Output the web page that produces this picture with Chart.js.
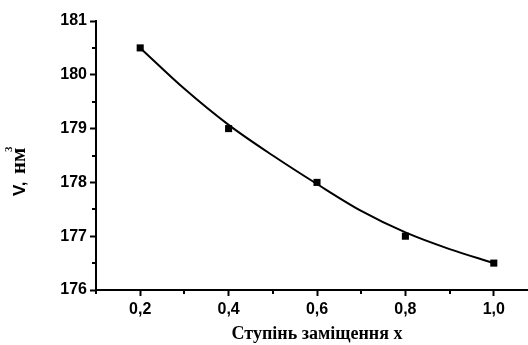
<!DOCTYPE html>
<html>
<head>
<meta charset="utf-8">
<script src="https://cdn.jsdelivr.net/npm/chart.js@4/dist/chart.umd.min.js"></script>
<style>
html,body{margin:0;padding:0;background:#fff;overflow:hidden;width:528px;height:345px;}
#wrap{position:absolute;left:0;top:0;width:543px;height:345px;}
</style>
</head>
<body>
<div id="wrap"><canvas id="c" width="543" height="345"></canvas></div>
<script>
// Measured points
const substitution = [0.2, 0.4, 0.6, 0.8, 1.0];
const volume = [180.5, 179.0, 178.0, 177.0, 176.5];
// Fitted curve
const fitX = [0.2, 0.3, 0.4, 0.5, 0.6, 0.7, 0.8, 0.9, 1.0];
const fitV = [180.5, 179.74, 179.07, 178.5, 177.97, 177.47, 177.07, 176.76, 176.5];
// Tick labels
const xTicks = [0.2, 0.4, 0.6, 0.8, 1.0];
const xMinor = [0.1, 0.3, 0.5, 0.7, 0.9, 1.1];
const yTicks = [176, 177, 178, 179, 180, 181];
const yMinor = [176.5, 177.5, 178.5, 179.5, 180.5];
const xTitle = 'Ступінь заміщення x';

const sansBold = {family: '"Liberation Sans", Arial, sans-serif', size: 16, weight: 'bold'};

const minorTicks = {
  id: 'minorTicks',
  afterDraw(chart) {
    const ctx = chart.ctx, xs = chart.scales.x, ys = chart.scales.y;
    const a = chart.chartArea;
    ctx.save();
    ctx.strokeStyle = '#000';
    ctx.lineWidth = 2;
    ctx.beginPath();
    xMinor.forEach(v => {
      const p = Math.round(xs.getPixelForValue(v));
      ctx.moveTo(p, a.bottom); ctx.lineTo(p, a.bottom + 4);
    });
    yMinor.forEach(v => {
      const p = Math.round(ys.getPixelForValue(v));
      ctx.moveTo(a.left, p); ctx.lineTo(a.left - 4, p);
    });
    ctx.stroke();
    // Y axis title
    ctx.translate(25, 196);
    ctx.rotate(-Math.PI / 2);
    ctx.fillStyle = '#000';
    ctx.textBaseline = 'alphabetic';
    ctx.font = 'bold 17px "Liberation Sans", Arial, sans-serif';
    ctx.fillText('V,', 0, 0);
    ctx.font = 'bold 21px "Liberation Serif", "Times New Roman", serif';
    ctx.fillText('нм', 22, 0);
    ctx.font = 'bold 11px "Liberation Serif", "Times New Roman", serif';
    ctx.fillText('3', 44, -13);
    ctx.restore();
  }
};

new Chart(document.getElementById('c'), {
  type: 'scatter',
  data: {
    datasets: [
      {
        label: 'fit',
        data: fitX.map((x, i) => ({x: x, y: fitV[i]})),
        showLine: true,
        borderColor: '#000',
        borderWidth: 2,
        pointRadius: 0,
        cubicInterpolationMode: 'monotone',
        fill: false
      },
      {
        label: 'V',
        data: substitution.map((x, i) => ({x: x, y: volume[i]})),
        pointStyle: 'rect',
        pointRadius: 5,
        backgroundColor: '#000',
        borderColor: '#000',
        borderWidth: 0
      }
    ]
  },
  options: {
    responsive: false,
    animation: false,
    events: [],
    layout: {padding: {top: 21, left: 0, right: 0, bottom: 0}},
    plugins: {legend: {display: false}, tooltip: {enabled: false}},
    scales: {
      x: {
        type: 'linear',
        min: 0.1,
        max: 1.1,
        afterBuildTicks: s => { s.ticks = xTicks.map(v => ({value: v})); },
        afterFit: s => { s.height = 55; },
        grid: {display: true, drawOnChartArea: false, drawTicks: true, tickLength: 6, tickWidth: 2, tickColor: '#000'},
        border: {display: true, color: '#000', width: 2},
        ticks: {
          color: '#000', font: sansBold, padding: 4, maxRotation: 0,
          callback: v => v.toFixed(1).replace('.', ',')
        },
        title: {
          display: true, text: xTitle, color: '#000',
          font: {family: '"Liberation Serif", "Times New Roman", serif', size: 18, weight: 'bold'},
          padding: {top: 0, bottom: 0}
        }
      },
      y: {
        type: 'linear',
        min: 176,
        max: 181,
        afterBuildTicks: s => { s.ticks = yTicks.map(v => ({value: v})); },
        afterFit: s => { s.width = 96; },
        grid: {display: true, drawOnChartArea: false, drawTicks: true, tickLength: 6, tickWidth: 2, tickColor: '#000'},
        border: {display: true, color: '#000', width: 2},
        ticks: {color: '#000', font: sansBold, padding: 3, callback: v => String(v)}
      }
    }
  },
  plugins: [minorTicks]
});
</script>
</body>
</html>
